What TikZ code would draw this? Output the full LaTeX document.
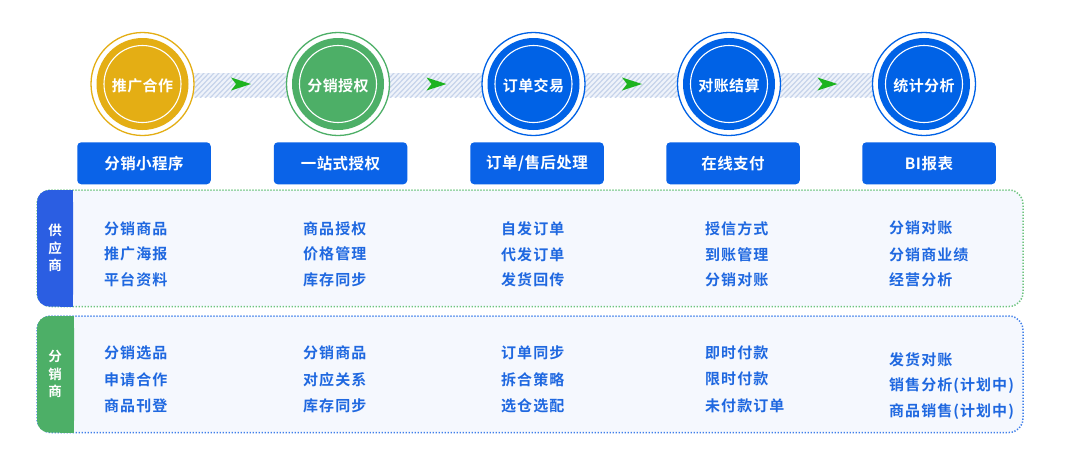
\documentclass[tikz,border=0pt]{standalone}
\usepackage{fontspec}
\setmainfont{Noto Sans CJK SC}[BoldFont={Noto Sans CJK SC Bold}]
\newfontfamily\itemfont{Noto Sans CJK SC Bold}[LetterSpace=7]
\newfontfamily\boxfont{Noto Sans CJK SC Bold}[LetterSpace=3]
\usetikzlibrary{calc}
\definecolor{cyel}{HTML}{E4AE14}
\definecolor{cgrn}{HTML}{4DAF67}
\definecolor{cblu}{HTML}{0062E6}
\definecolor{boxblu}{HTML}{0A63E8}
\definecolor{tabblu}{HTML}{2B5EE2}
\definecolor{panelfill}{HTML}{F5F8FE}
\definecolor{txtblu}{HTML}{1F68E0}
\definecolor{dotgrn}{HTML}{6DC47E}
\definecolor{dotblu}{HTML}{3F7FEA}
\definecolor{stripe}{HTML}{C6D3EA}
\definecolor{bandbg}{HTML}{EFF3FA}
\definecolor{arrgrn}{HTML}{1DB31F}
\tikzset{
  ctext/.style={text=white,font=\boxfont\fontsize{15}{16}\selectfont,inner sep=0},
  boxn/.style={fill=boxblu,rounded corners=4pt,minimum width=133.5pt,minimum height=42pt,text=white,font=\boxfont\fontsize{15.5}{16}\selectfont,inner sep=0},
  item/.style={anchor=west,inner sep=0,text=txtblu,font=\itemfont\fontsize{15}{16}\selectfont},
  tabtxt/.style={text=white,font=\fontsize{13.5}{17.5}\selectfont\bfseries,align=center,inner sep=0},
  dotborder/.style={line width=1.5pt,dash pattern=on 1.3pt off 1.7pt,rounded corners=14pt},
}
\newcommand{\stage}[4]{% name, x, color, text
  \fill[white] (#2,84) circle (52);
  \draw[#3,line width=1.3pt] (#2,84) circle (51.5);
  \fill[#3] (#2,84) circle (46);
  \draw[white,line width=1.1pt] (#2,84) circle (38.5);
  \node[ctext] (#1) at (#2,86) {#4};
}
\newcommand{\garrow}[1]{%
  \fill[arrgrn] ($(#1,84)+(10,0)$) -- ($(#1,84)+(-10,-6.5)$) -- ($(#1,84)+(-5,0)$) -- ($(#1,84)+(-10,6.5)$) -- cycle;
}
\begin{document}
\begin{tikzpicture}[x=1pt,y=-1pt]
\useasboundingbox (0,0) rectangle (1080,467);
\fill[white] (0,0) rectangle (1080,467);
% striped band
\fill[bandbg] (190,73) rectangle (880,97);
\begin{scope}
  \clip (190,73) rectangle (880,97);
  \foreach \i in {160,165,...,890} {
    \draw[stripe,line width=1.2pt] (\i,98) -- (\i+25,72);
  }
\end{scope}
% stages
\stage{c1}{142.5}{cyel}{推广合作}
\stage{c2}{338}{cgrn}{分销授权}
\stage{c3}{533.5}{cblu}{订单交易}
\stage{c4}{729}{cblu}{对账结算}
\stage{c5}{924}{cblu}{统计分析}
\garrow{241}
\garrow{436.5}
\garrow{632}
\garrow{827.5}
% boxes
\node[boxn] (b1) at (144,163.3) {分销小程序};
\node[boxn] (b2) at (340.5,163.3) {一站式授权};
\node[boxn] (b3) at (537,163.3) {订单/售后处理};
\node[boxn] (b4) at (733,163.3) {在线支付};
\node[boxn] (b5) at (929,163.3) {BI报表};
% panel 1
\fill[panelfill,rounded corners=14pt] (37,190) rectangle (1023,306.5);
\draw[dotgrn,dotborder] (37,190) rectangle (1023,306.5);
\fill[tabblu,rounded corners=12pt] (37,190) -- (73,190) -- (73,306.5) -- (37,306.5) -- cycle;
\fill[tabblu] (60,190) rectangle (73,306.5);
\node[tabtxt] (t1) at (55,248) {供\\应\\商};
% panel 2
\fill[panelfill,rounded corners=14pt] (37,316) rectangle (1023,432.5);
\draw[dotblu,dotborder] (37,316) rectangle (1023,432.5);
\fill[cgrn,rounded corners=12pt] (37,316) -- (74,316) -- (74,432.5) -- (37,432.5) -- cycle;
\fill[cgrn] (60,316) rectangle (74,432.5);
\node[tabtxt] (t2) at (55,374) {分\\销\\商};
% panel 1 items
\node[item] (p11) at (104,228.3) {分销商品};
\node[item] (p12) at (104,254.3) {推广海报};
\node[item] (p13) at (104,280) {平台资料};
\node[item] (p21) at (303,228.3) {商品授权};
\node[item] (p22) at (303,254.3) {价格管理};
\node[item] (p23) at (303,280) {库存同步};
\node[item] (p31) at (501,228.3) {自发订单};
\node[item] (p32) at (501,254.3) {代发订单};
\node[item] (p33) at (501,280) {发货回传};
\node[item] (p41) at (705,228.3) {授信方式};
\node[item] (p42) at (705,254.3) {到账管理};
\node[item] (p43) at (705,280) {分销对账};
\node[item] (p51) at (889,228.3) {分销对账};
\node[item] (p52) at (889,254.3) {分销商业绩};
\node[item] (p53) at (889,280) {经营分析};
% panel 2 items
\node[item] (q11) at (104,352.7) {分销选品};
\node[item] (q12) at (104,379.3) {申请合作};
\node[item] (q13) at (104,405.7) {商品刊登};
\node[item] (q21) at (303,352.7) {分销商品};
\node[item] (q22) at (303,379.3) {对应关系};
\node[item] (q23) at (303,405.7) {库存同步};
\node[item] (q31) at (501,352.7) {订单同步};
\node[item] (q32) at (501,379.3) {拆合策略};
\node[item] (q33) at (501,405.7) {选仓选配};
\node[item] (q41) at (705,352.7) {即时付款};
\node[item] (q42) at (705,379.3) {限时付款};
\node[item] (q43) at (705,405.7) {未付款订单};
\node[item] (q51) at (889,359.3) {发货对账};
\node[item] (q52) at (889,386) {销售分析(计划中)};
\node[item] (q53) at (889,411.7) {商品销售(计划中)};
\end{tikzpicture}
\end{document}
